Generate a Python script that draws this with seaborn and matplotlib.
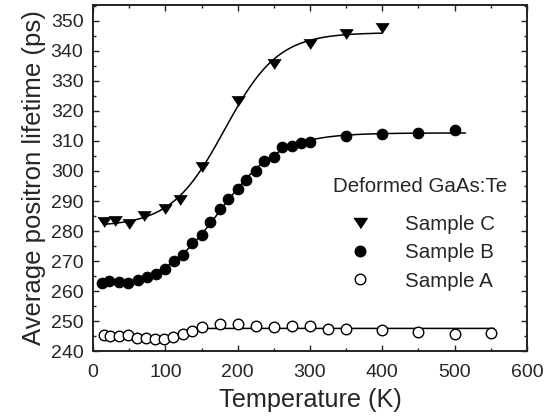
import numpy as np
import pandas as pd
import matplotlib
matplotlib.use("Agg")
import matplotlib.pyplot as plt
from matplotlib.lines import Line2D
from matplotlib.ticker import MultipleLocator
import seaborn as sns

# Average positron lifetime vs measurement temperature, deformed GaAs:Te
temp_c = [15, 30, 50, 70, 100, 120, 150, 200, 250, 300, 350, 400]
tau_c = [283.0, 283.3, 282.5, 284.9, 287.2, 290.2, 301.3, 323.2, 335.6, 342.3, 345.5, 347.5]

temp_b = [13, 22, 36, 49, 62, 75, 87, 100, 112, 125, 137, 150, 162, 175,
          187, 200, 212, 225, 237, 250, 262, 275, 287, 300, 350, 400, 450, 500]
tau_b = [262.8, 263.4, 263.0, 262.7, 263.6, 264.7, 265.8, 267.2, 270.0, 271.9,
         276.0, 278.6, 283.0, 287.3, 290.8, 294.0, 297.0, 300.1, 303.4, 304.6,
         307.9, 308.4, 309.2, 309.8, 311.8, 312.3, 312.7, 313.6]

temp_a = [15, 23, 36, 49, 61, 73, 86, 98, 111, 124, 137, 150, 175, 200, 225,
          250, 275, 300, 325, 350, 400, 450, 500, 550]
tau_a = [245.2, 245.0, 245.0, 245.4, 244.3, 244.3, 243.9, 244.1, 244.8, 245.6,
         246.7, 247.9, 249.0, 249.0, 248.3, 248.0, 248.2, 248.3, 247.4, 247.3,
         247.0, 246.4, 245.6, 245.9]

sample_names = ["Sample C", "Sample B", "Sample A"]
legend_title = "Deformed GaAs:Te"

# temperature range covered by each fitted curve
fit_range = {"Sample C": (15, 400), "Sample B": (13, 515), "Sample A": (15, 555)}


def fit_boltzmann(t, v):
    """Least-squares Boltzmann step: v = hi + (lo - hi) / (1 + exp((t - t0) / w))."""
    t = np.asarray(t, float)
    v = np.asarray(v, float)
    t0 = np.arange(40.0, 320.0, 1.0)
    w = np.arange(4.0, 90.0, 0.5)
    T0, W = np.meshgrid(t0, w, indexing="ij")
    F = 1.0 / (1.0 + np.exp((t[None, None, :] - T0[..., None]) / W[..., None]))
    fm = F.mean(-1, keepdims=True)
    vm = v.mean()
    slope = ((F - fm) * (v - vm)).sum(-1) / ((F - fm) ** 2).sum(-1)
    icpt = vm - slope * fm[..., 0]
    res = ((icpt[..., None] + slope[..., None] * F - v) ** 2).sum(-1)
    i, j = np.unravel_index(np.argmin(res), res.shape)
    a, b, c, d = icpt[i, j], slope[i, j], t0[i], w[j]
    return lambda x: a + b / (1.0 + np.exp((x - c) / d))


points = pd.concat([
    pd.DataFrame({"T": temp_c, "tau": tau_c, "sample": sample_names[0]}),
    pd.DataFrame({"T": temp_b, "tau": tau_b, "sample": sample_names[1]}),
    pd.DataFrame({"T": temp_a, "tau": tau_a, "sample": sample_names[2]}),
], ignore_index=True)

curves = []
for name, grp in points.groupby("sample", sort=False):
    model = fit_boltzmann(grp["T"], grp["tau"])
    lo, hi = fit_range[name]
    tt = np.linspace(lo, hi, 400)
    curves.append(pd.DataFrame({"T": tt, "tau": model(tt), "sample": name}))
curves = pd.concat(curves, ignore_index=True)

sns.set_theme(style="ticks")
plt.rcParams["font.family"] = ["Liberation Sans", "DejaVu Sans"]

fig = plt.figure(figsize=(5.54, 4.16), dpi=100)
ax = fig.add_axes([0.168, 0.156, 0.783, 0.832])

sns.lineplot(data=curves, x="T", y="tau", units="sample", estimator=None,
             color="black", linewidth=1.1, ax=ax, legend=False, sort=False)

tri = [(-1.0, 0.75), (1.0, 0.75), (0.0, -0.75)]
styles = {
    "Sample C": dict(marker=tri, s=9.6 ** 2, facecolor="black", edgecolor="black", linewidth=0.5),
    "Sample B": dict(marker="o", s=7.6 ** 2, facecolor="black", edgecolor="black", linewidth=0.8),
    "Sample A": dict(marker="o", s=7.6 ** 2, facecolor="white", edgecolor="black", linewidth=1.0),
}
for name, st in styles.items():
    sub = points[points["sample"] == name]
    sns.scatterplot(data=sub, x="T", y="tau", ax=ax, zorder=3, legend=False, **st)

ax.set_xlim(0, 600)
ax.set_ylim(240, 355.3)
ax.xaxis.set_major_locator(MultipleLocator(100))
ax.xaxis.set_minor_locator(MultipleLocator(50))
ax.yaxis.set_major_locator(MultipleLocator(10))
ax.yaxis.set_minor_locator(MultipleLocator(5))
ax.tick_params(which="both", direction="in", top=True, right=True,
               color="#222222", width=1.0)
ax.tick_params(which="major", length=4.5, labelsize=14, pad=7)
ax.tick_params(axis="x", which="major", pad=9)
ax.tick_params(which="minor", length=2.3)
for sp in ax.spines.values():
    sp.set_linewidth(1.4)
    sp.set_color("#222222")

ax.set_xlabel("Temperature (K)", fontsize=18.2, labelpad=5)
ax.set_ylabel("Average positron lifetime (ps)", fontsize=18.5, labelpad=3)

handles = [
    Line2D([], [], linestyle="", marker=tri, markersize=9.6, color="black"),
    Line2D([], [], linestyle="", marker="o", markersize=7.6, color="black"),
    Line2D([], [], linestyle="", marker="o", markersize=7.6,
           markerfacecolor="white", markeredgecolor="black"),
]
ax.legend(handles, sample_names, frameon=False, fontsize=14.8,
          handlelength=1.0, handletextpad=1.7, labelspacing=0.44,
          borderpad=0, borderaxespad=0, loc="upper left",
          bbox_to_anchor=(0.5915, 0.392))
ax.text(0.7546, 0.477, legend_title, transform=ax.transAxes,
        ha="center", va="center", fontsize=14.8)

fig.savefig("out.png", dpi=100)
